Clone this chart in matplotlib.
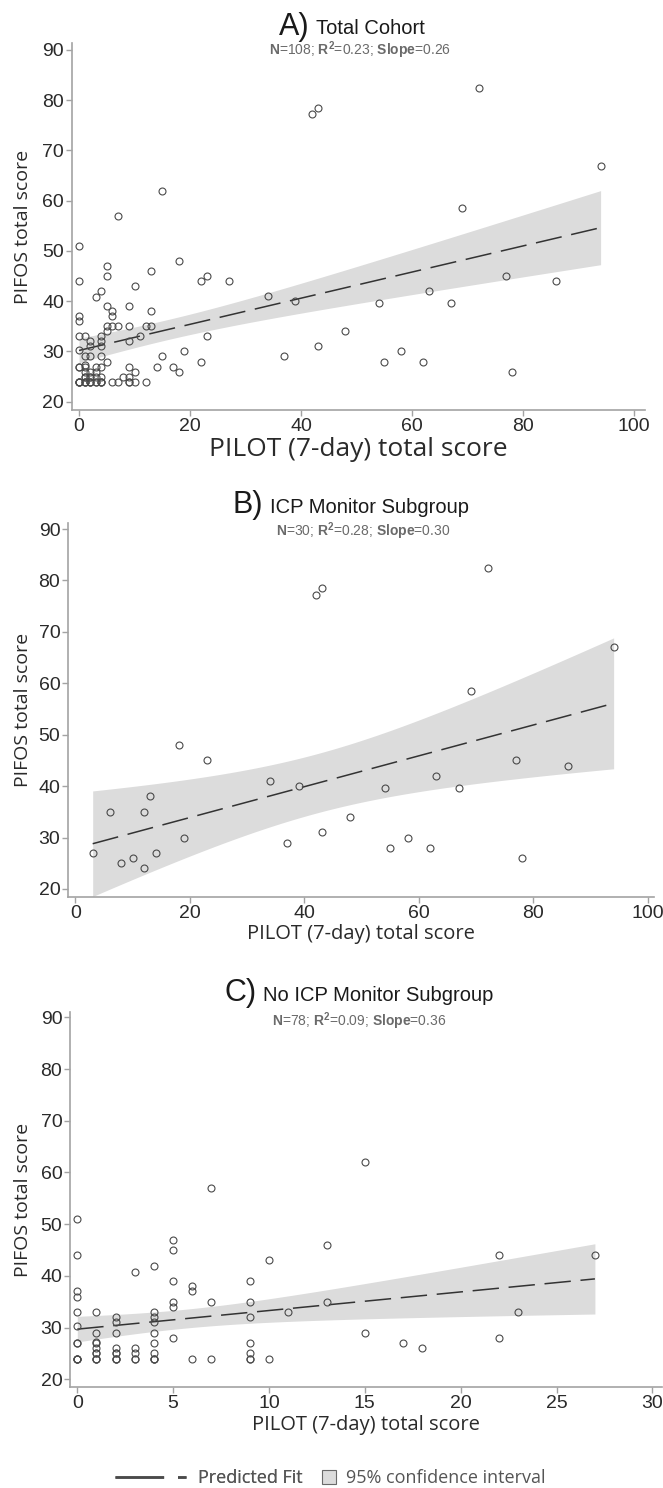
import numpy as np
import matplotlib
matplotlib.use("Agg")
import matplotlib.pyplot as plt
from matplotlib.lines import Line2D
from matplotlib.offsetbox import TextArea, HPacker, AnchoredOffsetbox

# ---------------- data ----------------
icp_x = [3, 6, 8, 10, 12, 12, 13, 14, 18, 19, 23, 34, 37, 39, 42, 43, 43, 48,
         54, 55, 58, 62, 63, 67, 69, 72, 77, 78, 86, 94]
icp_y = [27, 35, 25, 26, 35, 24, 38, 27, 48, 30, 45, 41, 29, 40, 77.2, 78.5, 31, 34,
         39.7, 28, 30, 28, 42, 39.7, 58.5, 82.5, 45, 26, 44, 67]

noicp_x = [0, 0, 0, 0, 0, 0, 0, 0, 0, 0, 0, 0,
           1, 1, 1, 1, 1, 1, 1, 1, 1, 1,
           2, 2, 2, 2, 2, 2, 2, 2, 2,
           3, 3, 3, 3, 3,
           4, 4, 4, 4, 4, 4, 4, 4, 4, 4,
           5, 5, 5, 5, 5, 5,
           6, 6, 6,
           7, 7, 7,
           9, 9, 9, 9, 9, 9, 9,
           10, 10, 11, 13, 13, 15, 15, 17, 18, 22, 22, 23, 27]
noicp_y = [51, 44, 37, 36, 33, 30.3, 27, 24, 24, 24, 24, 27,
           33, 29, 27.3, 27, 26, 25, 24, 24, 24, 25,
           32, 31, 29, 26, 25, 24, 24, 24, 25,
           40.8, 26, 25, 24, 24,
           42, 33, 32, 31, 29, 27, 25, 24, 24, 24,
           47, 45, 39, 35, 34, 28,
           38, 37, 24,
           57, 35, 24,
           39, 35, 32, 27, 25, 24, 24,
           43, 24, 33, 46, 35, 62, 29, 27, 26, 44, 28, 33, 44]

total_x = icp_x + noicp_x
total_y = icp_y + noicp_y

# fitted line (intercept, slope)
fit_intercept = [30.2, 27.9, 29.7]
fit_slope = [0.26, 0.30, 0.36]

panel_letters = ["A)", "B)", "C)"]
panel_names = ["Total Cohort", "ICP Monitor Subgroup", "No ICP Monitor Subgroup"]
stat_n = ["108", "30", "78"]
stat_r2 = ["0.23", "0.28", "0.09"]
stat_slope = ["0.26", "0.30", "0.36"]
x_ticks_list = [[0, 20, 40, 60, 80, 100], [0, 20, 40, 60, 80, 100], [0, 5, 10, 15, 20, 25, 30]]
y_ticks = [20, 30, 40, 50, 60, 70, 80, 90]
xlabel = "PILOT (7-day) total score"
ylabel = "PIFOS total score"
legend_labels = ["Predicted Fit", "95% confidence interval"]

# ---------------- style ----------------
W, H = 663, 1488
plt.rcParams["lines.scale_dashes"] = False
plt.rcParams["mathtext.fontset"] = "custom"
plt.rcParams["mathtext.rm"] = "Liberation Sans"
plt.rcParams["mathtext.it"] = "Liberation Sans:italic"
plt.rcParams["mathtext.bf"] = "Liberation Sans:bold"
NARROW = ["Liberation Sans Narrow", "Liberation Sans", "DejaVu Sans"]
SANS = ["Liberation Sans", "DejaVu Sans"]
OPEN = ["Open Sans", "DejaVu Sans"]
SPINE = "#a3a3a3"
TXT = "#2a2a2a"

fig = plt.figure(figsize=(W / 100, H / 100), dpi=100)


def px_rect(left, right, top, bottom):
    return [left / W, 1 - bottom / H, (right - left) / W, (bottom - top) / H]


def t_quant(df):
    z = 1.959964
    return z + (z ** 3 + z) / (4 * df) + (5 * z ** 5 + 16 * z ** 3 + 3 * z) / (96 * df ** 2)


def fit_band(x, y, a, b):
    x = np.asarray(x, float)
    y = np.asarray(y, float)
    n = len(x)
    xs = np.linspace(x.min(), x.max(), 300)
    yh = a + b * xs
    res = y - (a + b * x)
    s = np.sqrt(np.sum(res ** 2) / (n - 2))
    sxx = np.sum((x - x.mean()) ** 2)
    half = t_quant(n - 2) * s * np.sqrt(1 / n + (xs - x.mean()) ** 2 / sxx)
    return xs, yh, yh - half, yh + half


panels = [
    dict(x=total_x, y=total_y, rect=(71.7, 645, 43.3, 410), xlim=(-1.32, 102),
         ylim=(18.35, 91.33), xlsize=19, title_c=352, title_bot=41.5, sub_c=360, sub_y=50.5),
    dict(x=icp_x, y=icp_y, rect=(68, 654, 523, 897), xlim=(-1.31, 101.05),
         ylim=(18.44, 91.17), xlsize=14.5, title_c=351, title_bot=520, sub_c=363, sub_y=531),
    dict(x=noicp_x, y=noicp_y, rect=(70, 662, 1011.7, 1387.3), xlim=(-0.38, 30.5),
         ylim=(18.45, 91.1), xlsize=14.5, title_c=359, title_bot=1008, sub_c=359, sub_y=1021),
]

for i, p in enumerate(panels):
    ax = fig.add_axes(px_rect(*p["rect"]))
    xs, yh, lo, hi = fit_band(p["x"], p["y"], fit_intercept[i], fit_slope[i])
    ax.fill_between(xs, lo, hi, color="#dcdcdc", lw=0, zorder=1)
    ax.plot(xs, yh, color="#333333", lw=1.1, dashes=(19, 7), zorder=2)
    ax.plot(p["x"], p["y"], ls="none", marker="o", ms=5.0, mfc="none",
            mec="#4a4a4a", mew=0.8, zorder=3)
    ax.set_xlim(*p["xlim"])
    ax.set_ylim(*p["ylim"])
    ax.set_xticks(x_ticks_list[i])
    ax.set_yticks(y_ticks)
    for s in ["top", "right"]:
        ax.spines[s].set_visible(False)
    for s in ["left", "bottom"]:
        ax.spines[s].set_color(SPINE)
        ax.spines[s].set_linewidth(1.2)
    ax.tick_params(axis="both", direction="out", length=4, width=1, color=SPINE,
                   labelsize=14, labelcolor=TXT, pad=1.5)
    for lab in ax.get_xticklabels() + ax.get_yticklabels():
        lab.set_family(NARROW)
    ax.set_xlabel(xlabel, fontsize=p["xlsize"], family=OPEN, color=TXT, labelpad=2)
    ax.set_ylabel(ylabel, fontsize=14, family=OPEN, color=TXT)
    left, right, top, bottom = p["rect"]
    ax.yaxis.set_label_coords((32 - left) / (right - left), 0.5)

    # title
    t1 = TextArea(panel_letters[i], textprops=dict(fontsize=22, family=SANS, color="#1a1a1a"))
    t2 = TextArea(panel_names[i], textprops=dict(fontsize=14.5, family=SANS, color="#1a1a1a"))
    hp = HPacker(children=[t1, t2], align="baseline", pad=0, sep=5)
    ab = AnchoredOffsetbox(loc="lower center", child=hp, pad=0, borderpad=0, frameon=False,
                           bbox_to_anchor=(p["title_c"] / W, 1 - p["title_bot"] / H),
                           bbox_transform=fig.transFigure)
    fig.add_artist(ab)

    # subtitle with bold parts (mathtext keeps a common baseline)
    sub = (r"$\mathbf{N}$=" + stat_n[i] + r"; $\mathbf{R^2}$=" + stat_r2[i]
           + r"; $\mathbf{Slope}$=" + stat_slope[i])
    fig.text(p["sub_c"] / W, 1 - p["sub_y"] / H, sub, ha="center", va="center",
             fontsize=10, color="#6a6a6a", family=SANS)

# ---------------- legend ----------------
ly = 1 - 1478 / H
h_line = Line2D([], [], color="#4a4a4a", lw=1.8, dashes=(35, 10))
leg1 = fig.legend([h_line], [legend_labels[0]], loc="center left",
                  bbox_to_anchor=(115 / W, ly), frameon=False, borderpad=0,
                  borderaxespad=0, handlelength=51 / 13, handletextpad=0.7,
                  prop=dict(family=OPEN, size=13), labelcolor="#555555")
fig.add_artist(leg1)
h_sq = Line2D([], [], ls="none", marker="s", ms=9.4, mfc="#dcdcdc", mec="#6a6a6a", mew=0.8)
leg2 = fig.legend([h_sq], [legend_labels[1]], loc="center left",
                  bbox_to_anchor=(320 / W, ly), frameon=False, borderpad=0,
                  borderaxespad=0, handlelength=1.0, handletextpad=0.42,
                  prop=dict(family=OPEN, size=13), labelcolor="#555555")

fig.savefig("out.png", dpi=100)
